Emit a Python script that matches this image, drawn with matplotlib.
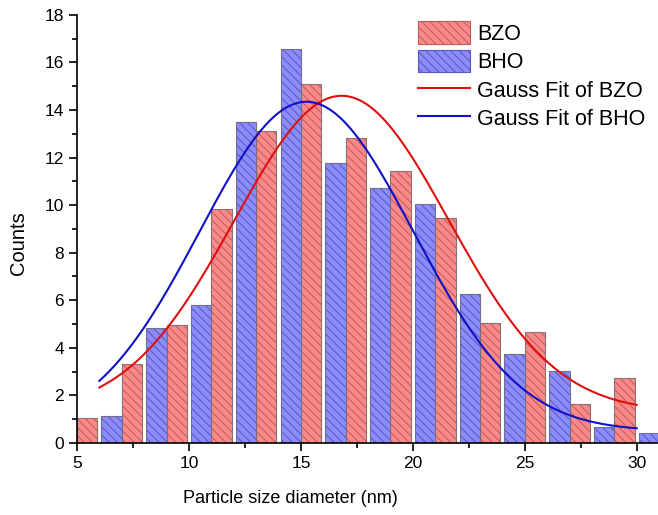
import numpy as np
import matplotlib
matplotlib.use("Agg")
import matplotlib.pyplot as plt
from matplotlib.patches import Patch
from matplotlib.lines import Line2D

plt.rcParams['font.family'] = ['Liberation Sans', 'DejaVu Sans']
plt.rcParams['hatch.linewidth'] = 0.7

# size histogram, bins of 2 nm; BZO bar sits right of the group edge, BHO left
bzo_x = [5, 7, 9, 11, 13, 15, 17, 19, 21, 23, 25, 27, 29]
bzo_counts = [1.05, 3.31, 4.95, 9.82, 13.12, 15.08, 12.84, 11.45, 9.47, 5.05, 4.66, 1.63, 2.74]
bho_x = [7, 9, 11, 13, 15, 17, 19, 21, 23, 25, 27, 29, 31]
bho_counts = [1.15, 4.84, 5.80, 13.48, 16.58, 11.76, 10.71, 10.05, 6.25, 3.72, 3.03, 0.67, 0.42]

# Gauss fit parameters: y0, height, xc, w
bzo_fit = [1.30, 13.30, 16.82, 9.57]
bho_fit = [0.50, 13.85, 15.25, 9.535]
fit_range = [6, 30]

red_fill, red_hatch = '#FA8A8A', '#C25A5A'
blue_fill, blue_hatch = '#8C8CF8', '#5656C4'
bar_w = 0.91


def gauss(x, p):
    y0, h, xc, w = p
    return y0 + h * np.exp(-2 * ((x - xc) / w) ** 2)


fig = plt.figure(figsize=(6.58, 5.15), dpi=100)
ax = fig.add_axes([0.117, 0.140, 0.883, 0.831])

# filled + hatched bars, then a grey outline on top
ax.bar(bzo_x, bzo_counts, width=bar_w, align='edge', color=red_fill,
       edgecolor=red_hatch, hatch='\\\\\\\\', linewidth=0)
ax.bar(bzo_x, bzo_counts, width=bar_w, align='edge', fill=False,
       edgecolor='#8a7070', linewidth=0.8)
ax.bar(bho_x, bho_counts, width=-bar_w, align='edge', color=blue_fill,
       edgecolor=blue_hatch, hatch='\\\\\\\\', linewidth=0)
ax.bar(bho_x, bho_counts, width=-bar_w, align='edge', fill=False,
       edgecolor='#70708a', linewidth=0.8)

xs = np.linspace(fit_range[0], fit_range[1], 300)
ax.plot(xs, gauss(xs, bzo_fit), color='#E01010', lw=1.5)
ax.plot(xs, gauss(xs, bho_fit), color='#1010C8', lw=1.5)

ax.set_xlim(5, 30.95)
ax.set_ylim(0, 18)
ax.set_xticks([5, 10, 15, 20, 25, 30])
ax.set_xticks([7.5, 12.5, 17.5, 22.5, 27.5], minor=True)
ax.set_yticks(np.arange(0, 19, 2))
ax.set_yticks(np.arange(1, 18, 2), minor=True)
ax.tick_params(which='major', direction='out', length=6, width=1.2, labelsize=12.5)
ax.tick_params(which='minor', direction='out', length=3.5, width=1.2)
for s in ['top', 'right']:
    ax.spines[s].set_visible(False)
for s in ['left', 'bottom']:
    ax.spines[s].set_linewidth(1.2)

ax.set_xlabel('Particle size diameter (nm)', fontsize=13)
ax.xaxis.set_label_coords(0.368, -0.110)
ax.set_ylabel('Counts', fontsize=14.5, va='center')
ax.yaxis.set_label_coords(-0.1015, 0.467)

handles = [
    Patch(facecolor=red_fill, edgecolor=red_hatch, hatch='\\\\\\\\', lw=0.8),
    Patch(facecolor=blue_fill, edgecolor=blue_hatch, hatch='\\\\\\\\', lw=0.8),
    Line2D([], [], color='#E01010', lw=1.5),
    Line2D([], [], color='#1010C8', lw=1.5),
]
labels = ['BZO', 'BHO', 'Gauss Fit of BZO', 'Gauss Fit of BHO']
fig.legend(handles, labels, loc='upper left', bbox_to_anchor=(0.635, 0.959),
           frameon=False, fontsize=15.5, handlelength=2.43, handleheight=1.25,
           labelspacing=0.23, handletextpad=0.32, borderpad=0, borderaxespad=0)

fig.savefig('out.png', dpi=100)
